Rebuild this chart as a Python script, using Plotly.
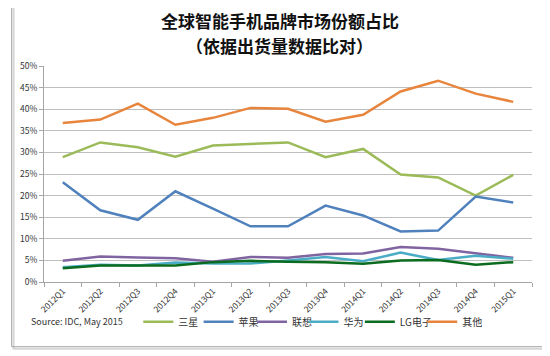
import plotly.graph_objects as go

quarters = ["2012Q1", "2012Q2", "2012Q3", "2012Q4", "2013Q1", "2013Q2", "2013Q3",
            "2013Q4", "2014Q1", "2014Q2", "2014Q3", "2014Q4", "2015Q1"]
samsung = [28.9, 32.3, 31.2, 29.0, 31.6, 31.9, 32.3, 28.9, 30.8, 24.9, 24.2, 20.0, 24.8]
apple = [23.1, 16.6, 14.4, 21.0, 17.0, 12.9, 12.9, 17.7, 15.4, 11.7, 11.9, 19.8, 18.4]
lenovo = [4.9, 5.9, 5.7, 5.5, 4.7, 5.8, 5.6, 6.5, 6.6, 8.1, 7.7, 6.6, 5.6]
huawei = [3.4, 4.0, 3.8, 4.5, 4.3, 4.3, 5.0, 5.8, 4.8, 6.8, 5.1, 6.1, 5.4]
lg = [3.2, 3.8, 3.8, 3.8, 4.6, 4.9, 4.7, 4.6, 4.2, 5.0, 5.1, 4.0, 4.6]
others = [36.8, 37.6, 41.3, 36.4, 38.0, 40.3, 40.1, 37.1, 38.7, 44.1, 46.6, 43.6, 41.7]

series_names = ["三星", "苹果", "联想", "华为", "LG电子", "其他"]
series_values = [samsung, apple, lenovo, huawei, lg, others]
series_colors = ["#9bbb59", "#4f81bd", "#8064a2", "#4bacc6", "#0b6b1e", "#e8853d"]
legend_text_x = [176, 237, 291, 343, 400, 463]  # page x of legend label starts

font_family = "Noto Sans CJK SC, Noto Sans, DejaVu Sans, sans-serif"

OFF = 8  # default body margin of the page
W, H = 550 - OFF, 356 - OFF
L = 38.7 - OFF
R = W - (532 - OFF)
T = 66.3 - OFF
B = H - (282.3 - OFF)
pw, ph = W - L - R, H - T - B


def px(x):
    return (x - OFF - L) / pw


def py(y):
    return (H - B - (y - OFF)) / ph


fig = go.Figure()
legends = {}
for i, (name, vals, color) in enumerate(zip(series_names, series_values, series_colors)):
    key = "legend" if i == 0 else f"legend{i + 1}"
    fig.add_trace(go.Scatter(x=quarters, y=vals, name=name, mode="lines",
                             line=dict(color=color, width=2.5), legend=key))
    legends[key] = dict(orientation="h", x=px(legend_text_x[i] - 42), y=py(322),
                        xanchor="left", yanchor="middle",
                        font=dict(size=10, color="#333333", family=font_family),
                        bgcolor="rgba(0,0,0,0)", borderwidth=0)

fig.update_layout(
    width=W, height=H,
    margin=dict(l=L, r=R, t=T, b=B),
    paper_bgcolor="white", plot_bgcolor="white",
    font=dict(family=font_family, size=9, color="#333333"),
    showlegend=True,
    xaxis=dict(type="category", tickangle=-45, showgrid=False, showline=True,
               linecolor="#a6a6a6", linewidth=1, ticks="outside", tickson="boundaries",
               tickcolor="#a6a6a6", ticklen=4, tickfont=dict(size=8.5, color="#333333"),
               range=[-0.5, 12.5]),
    yaxis=dict(range=[0, 50], dtick=5, ticksuffix="%", showgrid=True, gridcolor="#bfbfbf",
               gridwidth=1, showline=True, linecolor="#a6a6a6", ticks="outside",
               tickcolor="#a6a6a6", ticklen=4, tickfont=dict(size=8.5, color="#333333"),
               zeroline=False),
    shapes=[
        dict(type="rect", xref="paper", yref="paper", x0=px(8), x1=px(545), y0=py(349), y1=py(6),
             line=dict(color="#d6d6d6", width=2), fillcolor="rgba(0,0,0,0)", layer="below"),
        dict(type="rect", xref="paper", yref="paper", x0=px(6), x1=px(543), y0=py(347), y1=py(4),
             line=dict(color="#a6a6a6", width=1), fillcolor="rgba(0,0,0,0)", layer="below"),
    ],
    annotations=[
        dict(text="<b>全球智能手机品牌市场份额占比</b>", xref="paper", yref="paper",
             x=px(277), y=py(21), xanchor="center", yanchor="middle", showarrow=False,
             borderpad=0, font=dict(size=17, color="#111111")),
        dict(text="<b>（依据出货量数据比对）</b>", xref="paper", yref="paper",
             x=px(277), y=py(45.5), xanchor="center", yanchor="middle", showarrow=False,
             borderpad=0, font=dict(size=17, color="#111111")),
        dict(text="Source: IDC, May 2015", xref="paper", yref="paper",
             x=px(24), y=py(322), xanchor="left", yanchor="middle", showarrow=False,
             font=dict(size=9, color="#333333")),
    ],
    **legends,
)

fig.write_html("out.html")
